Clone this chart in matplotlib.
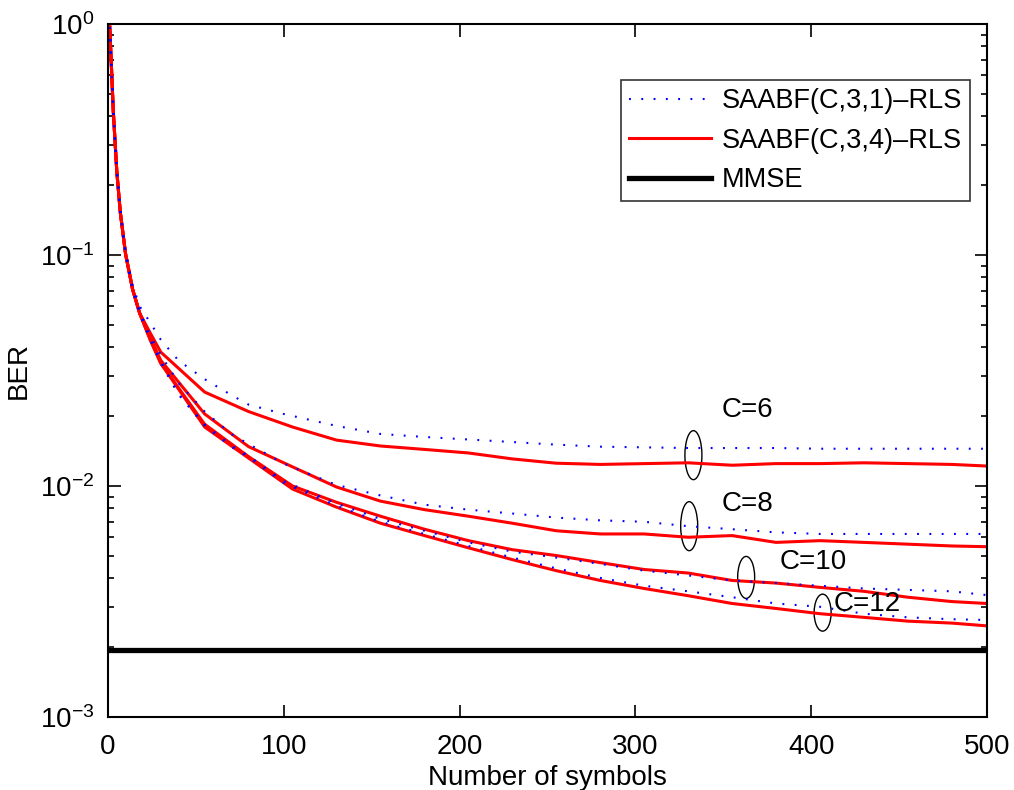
import matplotlib
matplotlib.use("Agg")
import matplotlib.pyplot as plt
from matplotlib.patches import Ellipse
from matplotlib.transforms import ScaledTranslation
from matplotlib.lines import Line2D
import matplotlib.ticker as mticker

plt.rcParams['font.family'] = ['Liberation Sans', 'DejaVu Sans']
plt.rcParams['mathtext.fontset'] = 'custom'
plt.rcParams['mathtext.rm'] = 'Liberation Sans'
plt.rcParams['mathtext.it'] = 'Liberation Sans'

# ---------------- data ----------------
x_red = [1, 3, 5, 7, 10, 14, 18, 24, 30, 55, 80, 105, 130, 155, 180, 205, 230,
         255, 280, 305, 330, 355, 380, 405, 430, 455, 480, 500]
x_blue = [1, 3, 5, 7, 10, 14, 18, 24, 30, 40, 55, 70, 80, 100, 130, 155, 180,
          205, 230, 255, 280, 305, 330, 355, 380, 405, 430, 455, 480, 500]

early = [0.97, 0.42, 0.23, 0.153, 0.101, 0.071, 0.056]

red_c6 = early + [0.046, 0.038, 0.0255, 0.021, 0.018, 0.0158, 0.0149, 0.0144, 0.0139,
                  0.0131, 0.01255, 0.0124, 0.0125, 0.0126, 0.0123, 0.0125, 0.0125,
                  0.0126, 0.0125, 0.0124, 0.0122]
red_c8 = early + [0.044, 0.035, 0.0205, 0.0148, 0.0121, 0.0099, 0.0086, 0.0079, 0.0074,
                  0.0069, 0.0064, 0.0062, 0.0062, 0.0060, 0.0061, 0.0057, 0.0058,
                  0.0057, 0.0056, 0.0055, 0.00546]
red_c10 = early + [0.043, 0.034, 0.0185, 0.0134, 0.0100, 0.0085, 0.0074, 0.0065, 0.0058,
                   0.0053, 0.0050, 0.00466, 0.00435, 0.0042, 0.0039, 0.0038, 0.00364,
                   0.0035, 0.0033, 0.00316, 0.0031]
red_c12 = early + [0.043, 0.034, 0.018, 0.0132, 0.0097, 0.0081, 0.0069, 0.0061, 0.0054,
                   0.0048, 0.0043, 0.0039, 0.0036, 0.00335, 0.0031, 0.00295, 0.0028,
                   0.0027, 0.0026, 0.00255, 0.00248]

blue_c6 = [0.97, 0.43, 0.235, 0.157, 0.104, 0.074, 0.060, 0.051, 0.043, 0.035, 0.029,
           0.0248, 0.0225, 0.0205, 0.0182, 0.0168, 0.0163, 0.0159, 0.0155, 0.0151,
           0.0148, 0.0147, 0.0146, 0.0146, 0.0146, 0.0145, 0.0145, 0.0145, 0.0145, 0.0145]
blue_c8 = [0.97, 0.42, 0.23, 0.153, 0.101, 0.071, 0.057, 0.045, 0.037, 0.028, 0.021,
           0.0168, 0.0152, 0.0125, 0.0101, 0.0091, 0.0083, 0.0079, 0.0076, 0.0073,
           0.0071, 0.0070, 0.0067, 0.0065, 0.0063, 0.0062, 0.0062, 0.0062, 0.0062, 0.0062]
blue_c10 = [0.97, 0.42, 0.23, 0.153, 0.101, 0.071, 0.056, 0.043, 0.035, 0.025, 0.0185,
            0.0150, 0.0135, 0.0105, 0.0084, 0.0072, 0.0064, 0.0057, 0.0052, 0.0049,
            0.0046, 0.0043, 0.0041, 0.0039, 0.0038, 0.0037, 0.0036, 0.00355, 0.0035, 0.00337]
blue_c12 = [0.97, 0.42, 0.23, 0.153, 0.101, 0.071, 0.056, 0.043, 0.034, 0.025, 0.0182,
            0.0148, 0.0133, 0.0103, 0.0082, 0.0070, 0.0062, 0.0055, 0.0049, 0.0044,
            0.0040, 0.0037, 0.0035, 0.0033, 0.0031, 0.0030, 0.0028, 0.0027, 0.00265, 0.00263]

mmse_x = [0, 500]
mmse_y = [0.00195, 0.00195]

labels = ['C=6', 'C=8', 'C=10', 'C=12']
label_pos = [(349, 0.0213), (349, 0.00836), (382, 0.00469), (412.5, 0.00308)]
ellipse_pos = [(333, 0.0136), (330.6, 0.0067), (363, 0.00402), (406.5, 0.00283)]
ellipse_h_px = [49, 49, 42, 37]

legend_labels = ['SAABF(C,3,1)\u2013RLS', 'SAABF(C,3,4)\u2013RLS', 'MMSE']
xticks = [0, 100, 200, 300, 400, 500]

# ---------------- figure ----------------
W, H, DPI = 1014, 790, 100
fig = plt.figure(figsize=(W / DPI, H / DPI), dpi=DPI)
ax = fig.add_axes([108 / W, 1 - 717 / H, (987 - 108) / W, (717 - 24) / H])

FS = 20
blue_style = dict(color='#0000ff', lw=1.5, linestyle=(0, (0.9, 5.0)))
red_style = dict(color='#ff0000', lw=2.2)

for yr in [red_c6, red_c8, red_c10, red_c12]:
    ax.plot(x_red, yr, **red_style)
for yb in [blue_c6, blue_c8, blue_c10, blue_c12]:
    ax.plot(x_blue, yb, **blue_style)
ax.plot(mmse_x, mmse_y, color='black', lw=3.8)

ax.set_yscale('log')
ax.set_xlim(0, 500)
ax.set_ylim(1e-3, 1e0)
ax.set_xticks(xticks)
ax.set_xticklabels([str(t) for t in xticks])
ax.yaxis.set_major_locator(mticker.LogLocator(base=10, numticks=10))
ax.yaxis.set_minor_locator(mticker.LogLocator(base=10, subs=range(2, 10), numticks=10))
ax.yaxis.set_minor_formatter(mticker.NullFormatter())

ax.tick_params(which='both', direction='in', top=True, right=True, labelsize=FS, width=1.2)
ax.tick_params(which='major', length=9)
ax.tick_params(axis='x', which='major', pad=12)
ax.tick_params(axis='y', which='major', pad=10)
ax.tick_params(which='minor', length=4.5)
ax.tick_params(axis='x', which='minor', bottom=False, top=False)
for s in ax.spines.values():
    s.set_linewidth(1.5)

ax.set_xlabel('Number of symbols', fontsize=FS, labelpad=4)
ax.set_ylabel('BER', fontsize=FS, labelpad=6)

# legend
handles = [Line2D([], [], **blue_style), Line2D([], [], **red_style),
           Line2D([], [], color='black', lw=3.8)]
leg = ax.legend(handles, legend_labels, loc='upper right', bbox_to_anchor=(970 / W, 1 - 80 / H),
                bbox_transform=fig.transFigure, fontsize=19.5, frameon=True, fancybox=False,
                edgecolor='black', handlelength=3.0, handletextpad=0.4, borderpad=0.3,
                labelspacing=0.5, borderaxespad=0)
leg.get_frame().set_linewidth(1.2)

# annotations
for (lx, ly), t in zip(label_pos, labels):
    ax.text(lx, ly, t, fontsize=FS, ha='left', va='center')
for (ex, ey), hpx in zip(ellipse_pos, ellipse_h_px):
    tr = fig.dpi_scale_trans + ScaledTranslation(ex, ey, ax.transData)
    e = Ellipse((0, 0), 17 / DPI, hpx / DPI, transform=tr, fill=False, edgecolor='black', lw=1.0)
    ax.add_patch(e)

fig.savefig('out.png', dpi=DPI)
